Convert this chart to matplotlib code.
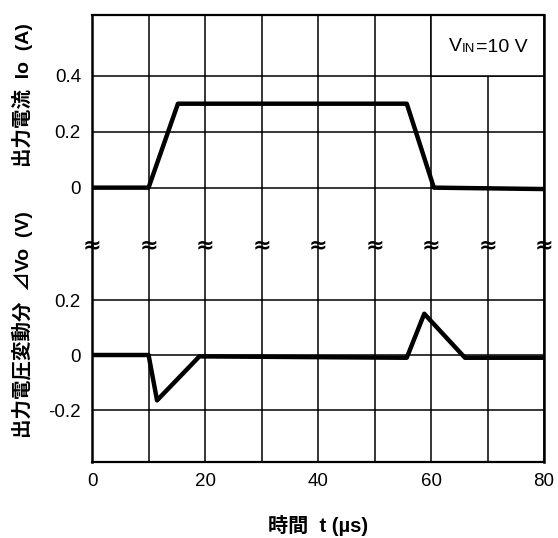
import matplotlib.pyplot as plt
from matplotlib.patches import Rectangle
from matplotlib.transforms import blended_transform_factory

plt.rcParams['font.family'] = ['Liberation Sans', 'Noto Sans CJK JP', 'DejaVu Sans']

# time axis (us)
t_ticks = [0, 20, 40, 60, 80]
t_grid = [0, 10, 20, 30, 40, 50, 60, 70, 80]

# output current Io (A)
t_io = [0, 10, 15.2, 55.7, 60.5, 80]
io = [0, 0, 0.30, 0.30, 0, -0.005]

# output voltage change dVo (V)
t_dv = [0, 10, 11.5, 19, 55.7, 58.8, 66, 80]
dv = [0, 0, -0.165, -0.005, -0.01, 0.15, -0.01, -0.01]

io_ticks = [0, 0.2, 0.4]
io_labels = ['0', '0.2', '0.4']
dv_ticks = [-0.2, 0, 0.2]
dv_labels = ['-0.2', '0', '0.2']

fig = plt.figure(figsize=(5.58, 5.38), dpi=100)
ax1 = fig.add_axes([0.165, 0.5446, 0.810, 0.4275])
ax2 = fig.add_axes([0.165, 0.1413, 0.810, 0.4033])
ax2.patch.set_visible(False)

ax1.set_xlim(0, 80)
ax1.set_ylim(-0.205, 0.617)
ax2.set_xlim(0, 80)
ax2.set_ylim(-0.389, 0.4)

# grid drawn by hand so the break between panels stays open
for ax in (ax1, ax2):
    for x in t_grid:
        ax.axvline(x, color='k', lw=1.1, zorder=1)
for y in io_ticks:
    ax1.axhline(y, color='k', lw=1.1, zorder=1)
for y in dv_ticks:
    ax2.axhline(y, color='k', lw=1.1, zorder=1)

# condition box in the upper right corner
ax1.add_patch(Rectangle((60, 0.4), 20, 0.217, facecolor='white',
                        edgecolor='k', lw=1.1, zorder=2))
v = ax1.text(63.2, 0.49, 'V', ha='left', va='baseline', fontsize=14, zorder=3)
sub = ax1.annotate('IN', xy=(1, 0), xycoords=v, ha='left', va='bottom',
                   fontsize=9.5, zorder=3)
ax1.annotate('=10 V', xy=(1, 0), xycoords=sub, ha='left', va='bottom',
             xytext=(0, -1.2), textcoords='offset points', fontsize=14, zorder=3)

ax1.plot(t_io, io, color='k', lw=3.2, zorder=4)
ax2.plot(t_dv, dv, color='k', lw=3.2, zorder=4)

# break marks on every vertical line
trans = blended_transform_factory(ax2.transData, ax2.transAxes)
for x in t_grid:
    ax2.text(x, 1, '≈', transform=trans, ha='center', va='center',
             family='DejaVu Sans', fontsize=16, fontweight='bold',
             clip_on=False, zorder=5)

for side in ('left', 'right'):
    ax1.spines[side].set_linewidth(1.8)
    ax2.spines[side].set_linewidth(1.8)
ax1.spines['top'].set_linewidth(1.6)
ax2.spines['bottom'].set_linewidth(1.6)
ax1.spines['bottom'].set_visible(False)
ax2.spines['top'].set_visible(False)

ax1.set_xticks([])
ax1.set_yticks(io_ticks, io_labels)
ax2.set_xticks(t_ticks, [str(t) for t in t_ticks])
ax2.set_yticks(dv_ticks, dv_labels)
for ax in (ax1, ax2):
    ax.tick_params(length=0, labelsize=13.5, pad=8)

fig.text(0.04, 1 - 95 / 538, '出力電流  Io  (A)', rotation=90,
         ha='center', va='center', fontsize=14, fontweight='bold')
fig.text(0.04, 1 - 325 / 538, '出力電圧変動分  ⊿Vo  (V)', rotation=90,
         ha='center', va='center', fontsize=14, fontweight='bold')
fig.text(318 / 558, 1 - 525 / 538, '時間  t (µs)', ha='center', va='center',
         fontsize=14.5, fontweight='bold')

fig.savefig('out.png', dpi=100)
